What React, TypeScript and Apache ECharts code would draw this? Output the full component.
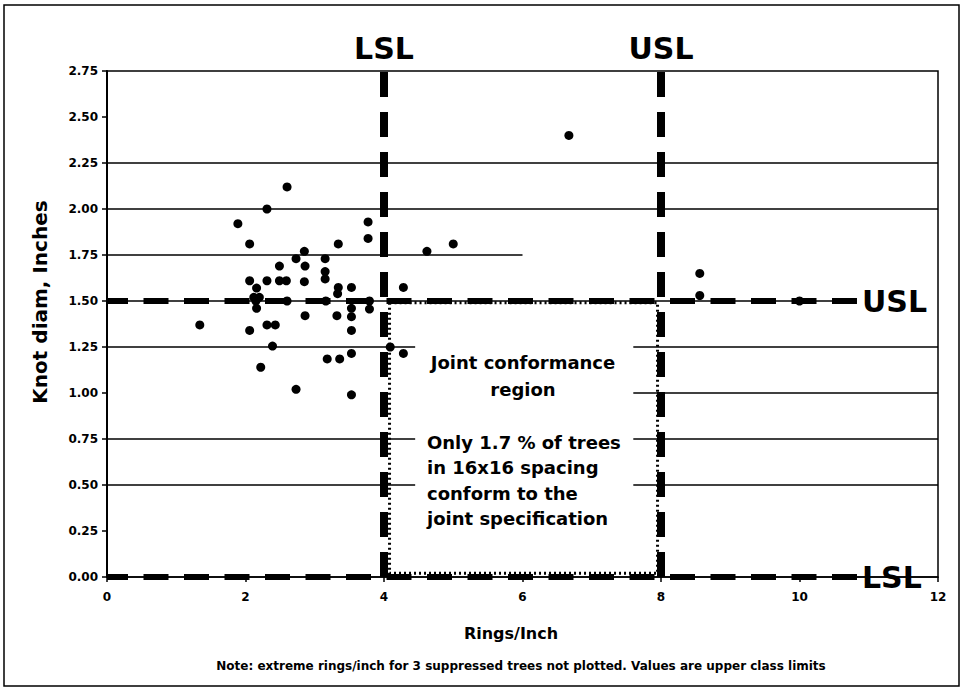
import React, { useEffect, useRef } from "react";
import * as echarts from "echarts";

// ---- data ----
const xTickValues = [0, 2, 4, 6, 8, 10, 12];
const yTickDecimals = 2;

// rings/inch, knot diameter (inches)
const knotPoints: [number, number][] = [
  [1.34, 1.37], [1.89, 1.92], [2.06, 1.81], [2.06, 1.61], [2.06, 1.34],
  [2.12, 1.52], [2.16, 1.57], [2.15, 1.5], [2.16, 1.46], [2.2, 1.52],
  [2.22, 1.14], [2.31, 2.0], [2.31, 1.61], [2.31, 1.37], [2.39, 1.255],
  [2.43, 1.37], [2.49, 1.69], [2.49, 1.61], [2.59, 1.61], [2.6, 2.12],
  [2.6, 1.5], [2.73, 1.73], [2.73, 1.02], [2.85, 1.77], [2.86, 1.69],
  [2.85, 1.605], [2.86, 1.42], [3.15, 1.73], [3.15, 1.66], [3.15, 1.62],
  [3.16, 1.5], [3.18, 1.185], [3.32, 1.42], [3.34, 1.81], [3.34, 1.574],
  [3.33, 1.54], [3.36, 1.185], [3.53, 1.574], [3.53, 1.46], [3.53, 1.415],
  [3.53, 1.34], [3.53, 1.215], [3.53, 0.99], [3.77, 1.93], [3.77, 1.84],
  [3.79, 1.5], [3.79, 1.456], [4.09, 1.25], [4.28, 1.574], [4.28, 1.215],
  [4.62, 1.77], [5.0, 1.81], [6.67, 2.4], [8.56, 1.65], [8.56, 1.53],
  [10.0, 1.5],
];

// specification limits
const ringLimitValues = [4, 8];
const ringLimitNames = ["LSL", "USL"];
const knotLimitValues = [1.5, 0];
const knotLimitNames = ["USL", "LSL"];
const knotLimitExtent = [0, 10.83];

// partial horizontal gridlines: [y, xFrom, xTo]
const gridSegments: [number, number, number][] = [
  [2.25, 0, 12], [2.0, 0, 12], [1.75, 0, 6], [1.5, 0, 10.83],
  [1.25, 0, 4.45], [1.25, 7.6, 12], [1.0, 7.6, 12],
  [0.75, 0, 4.45], [0.75, 7.6, 12], [0.5, 0, 4.45], [0.5, 7.6, 12],
];

// joint conformance region corners [x, y]
const conformanceRegion: [number, number][] = [[4.08, 1.49], [7.95, 0.02]];

const regionTitleLines = ["Joint conformance", "region"];
const regionNoteLines = [
  "Only 1.7 % of trees",
  "in 16x16 spacing",
  "conform to the",
  "joint specification",
];

const xAxisTitle = "Rings/Inch";
const yAxisTitle = "Knot diam, Inches";
const footnote =
  "Note: extreme rings/inch for 3 suppressed trees not plotted. Values are upper class limits";

const FONT = "'DejaVu Sans', Verdana, sans-serif";

export default function App() {
  const ref = useRef<HTMLDivElement>(null);

  useEffect(() => {
    if (!ref.current) return;
    const chart = echarts.init(ref.current, undefined, { renderer: "svg" });

    const textStyle = (size: number) => ({
      color: "#000",
      fontFamily: FONT,
      fontWeight: "bold" as const,
      fontSize: size,
    });

    const gtext = (
      text: string,
      x: number,
      y: number,
      size: number,
      align: string,
      extra: any = {}
    ) => ({
      type: "text",
      x,
      y,
      z: 100,
      ...extra,
      style: {
        text,
        fill: "#000",
        fontFamily: FONT,
        fontWeight: "bold",
        fontSize: size,
        align,
        textAlign: align,
        verticalAlign: "middle",
        textVerticalAlign: "middle",
      },
    });

    const graphics: any[] = [
      {
        type: "rect",
        z: 100,
        shape: { x: 4, y: 5, width: 955, height: 681 },
        style: { fill: "none", stroke: "#000", lineWidth: 1.5 },
      },
      gtext(yAxisTitle, 40, 302, 20, "center", { rotation: Math.PI / 2 }),
      gtext(xAxisTitle, 511, 633, 16, "center"),
      gtext(footnote, 521, 666, 12, "center"),
    ];
    regionTitleLines.forEach((t, i) =>
      graphics.push(gtext(t, 523, 362 + i * 27, 18, "center"))
    );
    regionNoteLines.forEach((t, i) =>
      graphics.push(gtext(t, 427, 442 + i * 25.5, 18, "left"))
    );

    const option: any = {
      animation: false,
      backgroundColor: "#fff",
      grid: {
        left: 107,
        top: 71,
        width: 831,
        height: 506,
        show: true,
        borderColor: "#000",
        borderWidth: 1.5,
        backgroundColor: "transparent",
      },
      xAxis: {
        type: "value",
        min: xTickValues[0],
        max: xTickValues[xTickValues.length - 1],
        interval: xTickValues[1] - xTickValues[0],
        axisLine: { show: true, onZero: false, lineStyle: { color: "#000", width: 1.5 } },
        axisTick: { show: true, length: 5, lineStyle: { color: "#000", width: 1.5 } },
        axisLabel: { ...textStyle(12), margin: 14 },
        splitLine: { show: false },
      },
      yAxis: {
        type: "value",
        min: 0,
        max: 2.75,
        interval: 0.25,
        axisLine: { show: true, lineStyle: { color: "#000", width: 2 } },
        axisTick: { show: true, length: 5, lineStyle: { color: "#000", width: 1.5 } },
        axisLabel: {
          ...textStyle(12),
          margin: 9,
          formatter: (v: number) => v.toFixed(yTickDecimals),
        },
        splitLine: { show: false },
      },
      series: [
        {
          type: "line",
          data: [],
          z: 1,
          silent: true,
          clip: false,
          markArea: {
            silent: true,
            itemStyle: {
              color: "#fff",
              borderColor: "#000",
              borderWidth: 3,
              borderType: [2, 3],
            },
            data: [[{ coord: conformanceRegion[0] }, { coord: conformanceRegion[1] }]],
          },
        },
        {
          type: "line",
          data: [],
          z: 2,
          silent: true,
          clip: false,
          markLine: {
            silent: true,
            symbol: ["none", "none"],
            label: { show: false },
            lineStyle: { color: "#000", width: 1.5, type: "solid" },
            data: gridSegments.map(([y, x0, x1]) => [
              { coord: [x0, y] },
              { coord: [x1, y] },
            ]),
          },
        },
        {
          type: "line",
          data: [],
          z: 3,
          silent: true,
          clip: false,
          markLine: {
            silent: true,
            symbol: ["none", "none"],
            lineStyle: { color: "#000", width: 6, type: [25, 15.5], dashOffset: 4 },
            label: { show: true, position: "end", distance: 5, ...textStyle(30) },
            data: knotLimitValues.map((v, i) => [
              { coord: [knotLimitExtent[0], v], label: { formatter: knotLimitNames[i] } },
              { coord: [knotLimitExtent[1], v] },
            ]),
          },
        },
        {
          type: "line",
          data: [],
          z: 3,
          silent: true,
          clip: false,
          markLine: {
            silent: true,
            symbol: ["none", "none"],
            lineStyle: { color: "#000", width: 8, type: [25, 15] },
            label: { show: true, position: "end", distance: 8, ...textStyle(30) },
            data: ringLimitValues.map((v, i) => [
              { coord: [v, 0], label: { formatter: ringLimitNames[i] } },
              { coord: [v, 2.75] },
            ]),
          },
        },
        {
          type: "scatter",
          z: 5,
          symbol: "circle",
          symbolSize: 9,
          itemStyle: { color: "#000", opacity: 1 },
          data: knotPoints,
        },
      ],
      graphic: graphics,
    };

    chart.setOption(option);
    return () => chart.dispose();
  }, []);

  return (
    <div
      ref={ref}
      style={{ position: "absolute", left: 0, top: 0, width: 964, height: 691 }}
    />
  );
}
